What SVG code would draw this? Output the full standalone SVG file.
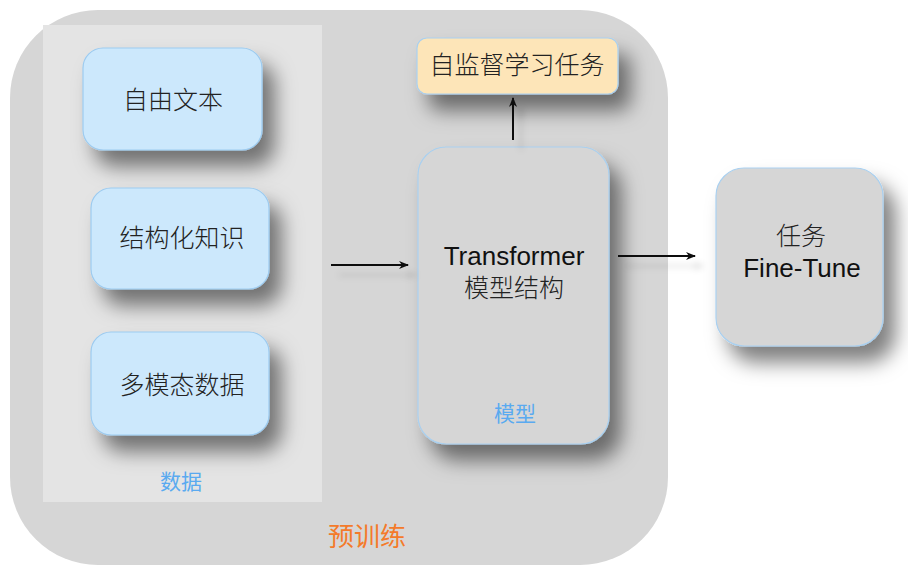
<svg xmlns="http://www.w3.org/2000/svg" width="908" height="573" viewBox="0 0 908 573">
<defs>
<filter id="sh" filterUnits="userSpaceOnUse" x="0" y="0" width="908" height="573">
<feDropShadow dx="12" dy="16" stdDeviation="10" flood-color="#000" flood-opacity="0.5"/>
</filter>
<filter id="shl" filterUnits="userSpaceOnUse" x="0" y="0" width="908" height="573">
<feDropShadow dx="8" dy="10" stdDeviation="3" flood-color="#000" flood-opacity="0.15"/>
</filter>
<marker id="ah" viewBox="0 0 10 10" refX="9" refY="5" markerWidth="10" markerHeight="10" markerUnits="userSpaceOnUse" orient="auto">
<path d="M0,1 L10,5 L0,9 L3,5 Z" fill="#111"/>
</marker>
</defs>
<style>
.blue{fill:#cce8fc;stroke:#9ccbf0;stroke-width:1.2}
.gray{fill:#d6d6d6;stroke:#a9d0f0;stroke-width:1.2}
.t{font-family:"Noto Sans CJK SC","Liberation Sans",sans-serif;font-size:25px;font-weight:300;fill:#222;text-anchor:middle}
.l{font-family:"Liberation Sans","Noto Sans CJK SC",sans-serif;font-size:26px;fill:#111;text-anchor:middle}
.lab{font-family:"Noto Sans CJK SC",sans-serif;font-size:21px;fill:#5aaaf0;text-anchor:middle}
.conn{stroke:#111;stroke-width:2;fill:none;marker-end:url(#ah)}
</style>
<g id="pretrain">
<rect x="10" y="10" width="658" height="555" rx="88" fill="#d6d6d6"/>
<text x="367" y="546" style="font-family:'Noto Sans CJK SC',sans-serif;font-size:26px;fill:#f47a2a;text-anchor:middle">预训练</text>
</g>
<g id="data">
<rect x="43" y="25" width="279" height="477" fill="#e4e4e4"/>
<text class="lab" x="181" y="489">数据</text>
</g>
<g id="free-text">
<rect class="blue" x="83" y="48" width="179" height="102" rx="20" filter="url(#sh)"/>
<text class="t" x="173" y="109">自由文本</text>
</g>
<g id="structured">
<rect class="blue" x="91" y="188" width="178" height="101" rx="20" filter="url(#sh)"/>
<text class="t" x="182" y="247">结构化知识</text>
</g>
<g id="multimodal">
<rect class="blue" x="91" y="332" width="178" height="103" rx="20" filter="url(#sh)"/>
<text class="t" x="182" y="394">多模态数据</text>
</g>
<g id="self-supervised">
<rect x="417" y="38" width="201" height="56" rx="10" fill="#fde5b8" stroke="#a9d0f0" stroke-width="1.2" filter="url(#sh)"/>
<text class="t" x="517" y="74">自监督学习任务</text>
</g>
<g id="model">
<rect class="gray" x="418" y="147" width="191" height="297" rx="28" filter="url(#sh)"/>
<text class="l" x="514" y="265">Transformer</text>
<text class="t" x="514" y="297">模型结构</text>
<text class="lab" x="515" y="421">模型</text>
</g>
<g id="finetune">
<rect class="gray" x="716" y="168" width="167" height="178" rx="28" filter="url(#sh)"/>
<text class="t" x="801" y="245">任务</text>
<text class="l" x="802" y="277">Fine-Tune</text>
</g>
<g id="connectors" filter="url(#shl)">
<line class="conn" x1="331" y1="265" x2="408" y2="265"/>
<line class="conn" x1="513" y1="140" x2="513" y2="98"/>
<line class="conn" x1="618" y1="256" x2="695" y2="256"/>
</g>
</svg>
